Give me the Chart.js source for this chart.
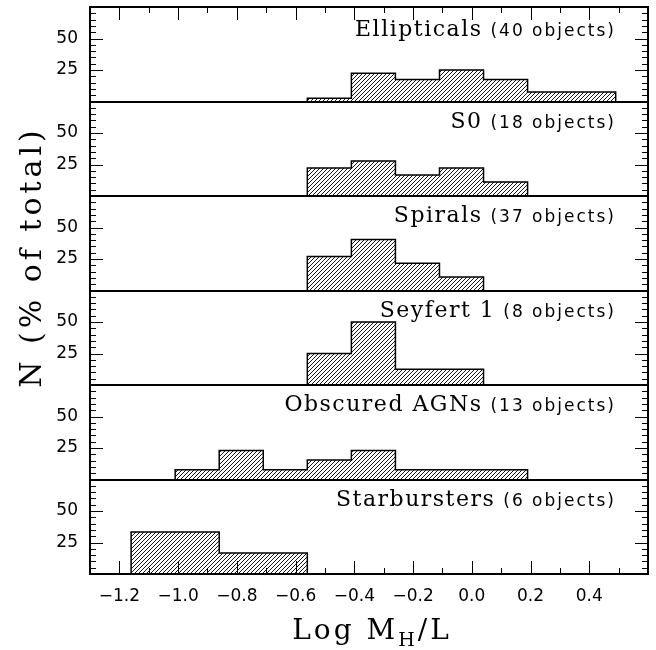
<!DOCTYPE html>
<html>
<head>
<meta charset="utf-8">
<script src="https://cdn.jsdelivr.net/npm/chart.js@4.4.0/dist/chart.umd.min.js"></script>
<style>
  html, body { margin: 0; padding: 0; background: #fff; }
  canvas { display: block; }
</style>
</head>
<body>
<canvas id="histChart" width="656" height="650"></canvas>
<script>
// bin edges in Log M_H/L (bins are 0.15 wide)
const binEdges = [-1.16, -1.01, -0.86, -0.71, -0.56, -0.41, -0.26, -0.11, 0.04, 0.19, 0.34, 0.49];

const panelNames = ['Ellipticals', 'S0', 'Spirals', 'Seyfert 1', 'Obscured AGNs', 'Starbursters'];
const panelCounts = ['(40 objects)', '(18 objects)', '(37 objects)', '(8 objects)', '(13 objects)', '(6 objects)'];

// N (% of total), one value per bin
const ellipticals  = [0, 0, 0, 0, 2.5, 22.5, 17.5, 25.0, 17.5, 7.5, 7.5];
const s0           = [0, 0, 0, 0, 22.2, 27.8, 16.7, 22.2, 11.1, 0, 0];
const spirals      = [0, 0, 0, 0, 27.0, 40.5, 21.6, 10.8, 0, 0, 0];
const seyfert1     = [0, 0, 0, 0, 25.0, 50.0, 12.5, 12.5, 0, 0, 0];
const obscuredAGNs = [0, 7.7, 23.1, 7.7, 15.4, 23.1, 7.7, 7.7, 7.7, 0, 0];
const starbursters = [33.3, 33.3, 16.7, 16.7, 0, 0, 0, 0, 0, 0, 0];

const xTicks = [-1.2, -1.0, -0.8, -0.6, -0.4, -0.2, 0.0, 0.2, 0.4];
const yTicks = [25, 50];

const panels = [ellipticals, s0, spirals, seyfert1, obscuredAGNs, starbursters];

// outline of a histogram, walked along the bin edges
function stepPoints(values) {
    const first = values.findIndex(v => v > 0);
    let last = values.length - 1;
    while (values[last] === 0) last--;
    const pts = [{ x: binEdges[first], y: 0 }];
    for (let i = first; i <= last; i++) pts.push({ x: binEdges[i], y: values[i] });
    pts.push({ x: binEdges[last + 1], y: values[last] });
    pts.push({ x: binEdges[last + 1], y: 0 });
    return pts;
}

function makeHatch() {
    const w = 4, h = 4;
    const c = document.createElement('canvas');
    c.width = w; c.height = h;
    const g = c.getContext('2d');
    g.strokeStyle = '#000';
    g.lineWidth = 0.9;
    g.beginPath();
    g.moveTo(0, h); g.lineTo(w, 0);
    g.moveTo(-w, h); g.lineTo(0, 0);
    g.moveTo(w, h); g.lineTo(2 * w, 0);
    g.stroke();
    return g.createPattern(c, 'repeat');
}

const fmt = v => v.toFixed(1).replace('-', '\u2212');

function noPadding(s) {
    s.paddingTop = 0; s.paddingBottom = 0;
    s.paddingLeft = 0; s.paddingRight = 0;
}

const framePlugin = {
    id: 'frame',
    afterDraw(chart) {
        const { ctx, chartArea: a, scales } = chart;
        const xs = scales.x;
        ctx.save();
        ctx.strokeStyle = '#000';
        ctx.fillStyle = '#000';

        // x ticks on top and bottom
        ctx.lineWidth = 1;
        ctx.beginPath();
        for (let k = -12; k <= 5; k++) {
            const px = Math.round(xs.getPixelForValue(k / 10)) + 0.5;
            const len = k % 2 === 0 ? 13 : 6;
            ctx.moveTo(px, a.top); ctx.lineTo(px, a.top + len);
            ctx.moveTo(px, a.bottom); ctx.lineTo(px, a.bottom - len);
        }
        // y ticks on both sides of every panel
        panels.forEach((_, i) => {
            const ys = scales['y' + i];
            for (let v = 5; v <= 70; v += 5) {
                const py = Math.round(ys.getPixelForValue(v)) + 0.5;
                const len = v % 25 === 0 ? 13 : 6;
                ctx.moveTo(a.left, py); ctx.lineTo(a.left + len, py);
                ctx.moveTo(a.right, py); ctx.lineTo(a.right - len, py);
            }
        });
        ctx.stroke();

        // panel separators and frame
        ctx.lineWidth = 2;
        ctx.beginPath();
        for (let i = 0; i < panels.length - 1; i++) {
            const py = Math.round(scales['y' + i].bottom);
            ctx.moveTo(a.left, py); ctx.lineTo(a.right, py);
        }
        ctx.stroke();
        ctx.strokeRect(a.left, a.top, a.right - a.left, a.bottom - a.top);

        // panel titles
        ctx.textBaseline = 'alphabetic';
        ctx.textAlign = 'right';
        panels.forEach((_, i) => {
            const ys = scales['y' + i];
            const base = ys.top + (i === 0 ? 29 : 26);
            const xr = 616;
            ctx.font = '17px "DejaVu Sans"';
            ctx.letterSpacing = '2px';
            const wc = ctx.measureText(panelCounts[i]).width;
            ctx.fillText(panelCounts[i], xr, base);
            ctx.font = '22px "DejaVu Serif"';
            ctx.letterSpacing = '1.5px';
            ctx.fillText(panelNames[i], xr - wc - 8, base);
        });

        // axis titles
        ctx.letterSpacing = '3px';
        ctx.textAlign = 'left';
        ctx.font = '28px "DejaVu Serif"';
        const w1 = ctx.measureText('Log M').width;
        const w3 = ctx.measureText('/L').width;
        ctx.font = '19px "DejaVu Serif"';
        const w2 = ctx.measureText('H').width;
        const x0 = 372 - (w1 + w2 + w3) / 2;
        const yb = 639;
        ctx.font = '28px "DejaVu Serif"';
        ctx.fillText('Log M', x0, yb);
        ctx.font = '19px "DejaVu Serif"';
        ctx.fillText('H', x0 + w1, yb + 7);
        ctx.font = '28px "DejaVu Serif"';
        ctx.fillText('/L', x0 + w1 + w2, yb);

        ctx.translate(41, 257);
        ctx.rotate(-Math.PI / 2);
        ctx.textAlign = 'center';
        ctx.font = '30px "DejaVu Serif"';
        ctx.letterSpacing = '4px';
        ctx.fillText('N (% of total)', 0, 0);
        ctx.restore();
    }
};

const hatch = makeHatch();

const scales = {
    x: {
        type: 'linear',
        min: -1.3,
        max: 0.6,
        afterBuildTicks: s => { s.ticks = xTicks.map(v => ({ value: v })); },
        afterFit: s => { s.height = 40; noPadding(s); },
        grid: { display: false, drawTicks: false },
        border: { display: false },
        ticks: {
            color: '#000',
            font: { family: 'DejaVu Sans', size: 17 },
            padding: 12,
            maxRotation: 0,
            autoSkip: false,
            callback: v => fmt(v)
        }
    }
};
// left boxes of a stack are laid out last-added on top, so add the bottom panel first
for (let i = panels.length - 1; i >= 0; i--) {
    scales['y' + i] = {
        type: 'linear',
        position: 'left',
        stack: 'panels',
        stackWeight: 1,
        min: 0,
        max: 75,
        afterBuildTicks: s => { s.ticks = yTicks.map(v => ({ value: v })); },
        afterFit: s => { s.width = 40; noPadding(s); },
        grid: { display: false, drawTicks: false },
        border: { display: false },
        ticks: {
            color: '#000',
            font: { family: 'DejaVu Sans', size: 17 },
            padding: 12
        }
    };
}

new Chart(document.getElementById('histChart'), {
    type: 'line',
    data: {
        datasets: panels.map((vals, i) => ({
            label: panelNames[i],
            data: stepPoints(vals),
            yAxisID: 'y' + i,
            stepped: true,
            borderColor: '#000',
            borderWidth: 1.5,
            backgroundColor: hatch,
            fill: 'origin',
            pointRadius: 0
        }))
    },
    options: {
        responsive: false,
        animation: false,
        layout: { padding: { left: 50, right: 8, top: 7, bottom: 36 } },
        plugins: { legend: { display: false }, tooltip: { enabled: false } },
        scales: scales
    },
    plugins: [framePlugin]
});
</script>
</body>
</html>
